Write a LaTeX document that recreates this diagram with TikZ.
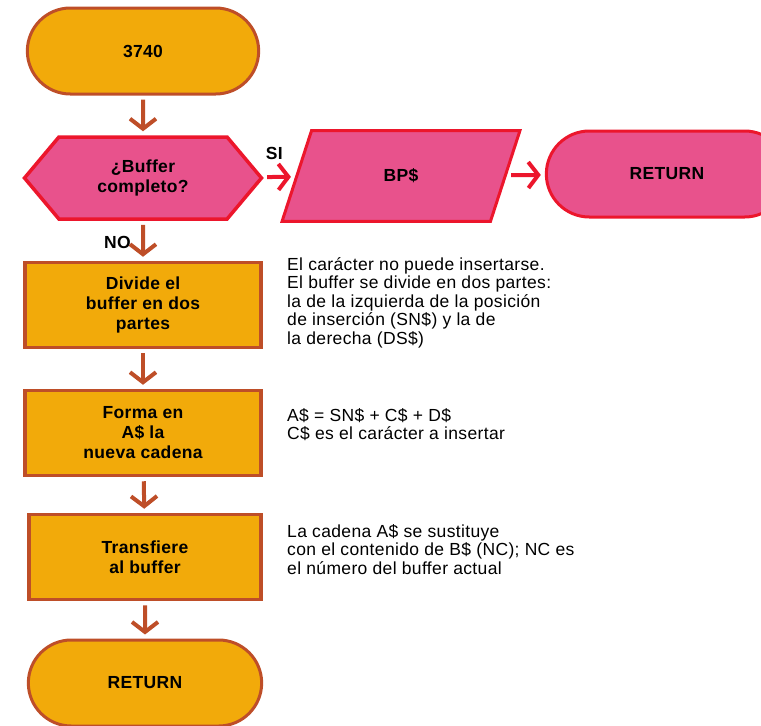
\documentclass[tikz,border=0pt]{standalone}
\usepackage{fontspec}
\setmainfont{Liberation Sans}
\newfontfamily\notefamily[LetterSpace=2]{Liberation Sans}
\newfontfamily\labelfamily[LetterSpace=2]{Liberation Sans}
\usetikzlibrary{shapes.misc, shapes.geometric, shapes.symbols, arrows.meta, positioning}
\definecolor{gold}{RGB}{242,170,10}
\definecolor{rust}{RGB}{190,78,40}
\definecolor{rose}{RGB}{232,82,140}
\definecolor{scarlet}{RGB}{236,22,44}
\newcommand\labelfont{\labelfamily\fontsize{17.5}{20}\selectfont\bfseries}
\newcommand\notefont{\notefamily\fontsize{17.5}{18.5}\selectfont}
\tikzset{>=latex}
\tikzset{
  term/.style={rounded rectangle, draw=rust, fill=gold, line width=3pt, minimum width=238pt, minimum height=86pt, font=\labelfont},
  proc/.style={rectangle, draw=rust, fill=gold, line width=3.5pt, minimum width=236pt, minimum height=85pt, align=center, font=\labelfont},
  test/.style={signal, signal to=west and east, signal pointer angle=100, draw=scarlet, fill=rose, line width=3.5pt, minimum width=237pt, minimum height=82pt, align=center, font=\labelfont},
  outp/.style={trapezium, trapezium left angle=72, trapezium right angle=108, draw=scarlet, fill=rose, line width=3pt, minimum width=238pt, minimum height=84pt, font=\labelfont},
  flow/.style={line width=4pt, -{Straight Barb[length=10pt,width=26pt]}, shorten <=4pt, shorten >=4pt},
  note/.style={anchor=north west, inner sep=0pt, align=left, font=\notefont},
}
\begin{document}
\begin{tikzpicture}[x=1pt,y=-1pt]
    \clip (0,0) rectangle (761,726);
    \node[term] (start) at (143,51) {3740};
    \node[test] (full) at (143,178) {¿Buffer\\completo?};
    \node[outp] (bp) at (401,176) {BP\$};
    \node[term, draw=scarlet, fill=rose, minimum width=248pt] (ret1) at (667,174) {RETURN};
    \node[proc] (split) at (143,305) {Divide el\\buffer en dos\\partes};
    \node[proc] (build) at (143,433) {Forma en\\A\$ la\\nueva cadena};
    \node[proc, minimum width=232pt] (move) at (145,557) {Transfiere\\al buffer};
    \node[term, minimum width=240pt] (ret2) at (145,683) {RETURN};
    % comentarios a la derecha
    \node[note] (notesplit) at (287,257) {El carácter no puede insertarse.\\El buffer se divide en dos partes:\\la de la izquierda de la posición\\de inserción (SN\$) y la de\\la derecha (DS\$)};
    \node[note] (notebuild) at (287,408) {A\$ = SN\$ + C\$ + D\$\\C\$ es el carácter a insertar};
    \node[note] (notemove) at (287,524) {La cadena A\$ se sustituye\\con el contenido de B\$ (NC); NC es\\el número del buffer actual};
    \path[flow, draw=rust]
        (start) edge (full)
        (full)  edge node[pos=0.55, left=7pt, font=\labelfont] {NO} (split)
        (split) edge (build)
        (build) edge (move)
        (move)  edge (ret2)
    ;
    \path[flow, draw=scarlet]
        (full) edge node[pos=0.35, above=12pt, font=\labelfont] {SI} (bp)
        (bp)   edge (ret1)
    ;
\end{tikzpicture}
\end{document}
